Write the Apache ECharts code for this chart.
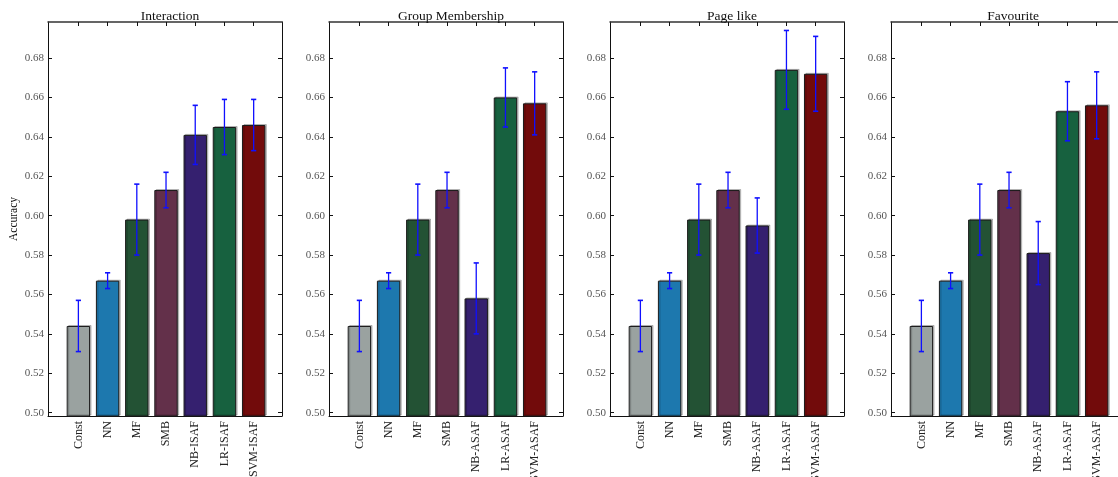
<!DOCTYPE html>
<html>
<head>
<meta charset="utf-8">
<script src="https://cdn.jsdelivr.net/npm/echarts@6/dist/echarts.min.js"></script>
<style>
html,body{margin:0;padding:0;background:#fff;}
#chart{width:1118px;height:477px;}
</style>
</head>
<body>
<div id="chart"></div>
<script>
// ---- data ----
const titles = ['Interaction', 'Group Membership', 'Page like', 'Favourite'];
const catsISAF = ['Const', 'NN', 'MF', 'SMB', 'NB-ISAF', 'LR-ISAF', 'SVM-ISAF'];
const catsASAF = ['Const', 'NN', 'MF', 'SMB', 'NB-ASAF', 'LR-ASAF', 'SVM-ASAF'];

const interactionAcc = [0.544, 0.567, 0.598, 0.613, 0.641, 0.645, 0.646];
const interactionErr = [0.013, 0.004, 0.018, 0.009, 0.015, 0.014, 0.013];

const groupAcc = [0.544, 0.567, 0.598, 0.613, 0.558, 0.660, 0.657];
const groupErr = [0.013, 0.004, 0.018, 0.009, 0.018, 0.015, 0.016];

const pageAcc = [0.544, 0.567, 0.598, 0.613, 0.595, 0.674, 0.672];
const pageErr = [0.013, 0.004, 0.018, 0.009, 0.014, 0.020, 0.019];

const favAcc = [0.544, 0.567, 0.598, 0.613, 0.581, 0.653, 0.656];
const favErr = [0.013, 0.004, 0.018, 0.009, 0.016, 0.015, 0.017];

const yTicks = [0.50, 0.52, 0.54, 0.56, 0.58, 0.60, 0.62, 0.64, 0.66, 0.68];
const barColors = ['#9aa2a0', '#1d78ae', '#235234', '#63304a', '#35206f', '#17613f', '#720b0b'];

const panels = [
  { title: titles[0], cats: catsISAF, acc: interactionAcc, err: interactionErr },
  { title: titles[1], cats: catsASAF, acc: groupAcc, err: groupErr },
  { title: titles[2], cats: catsASAF, acc: pageAcc, err: pageErr },
  { title: titles[3], cats: catsASAF, acc: favAcc, err: favErr }
];

// ---- layout ----
const gridLefts = [48, 329, 610, 891];
const gridW = 234, gridTop = 22, gridH = 394;
const xMin = -1.04, xMax = 6.97;
const yMin = 0.4983, yMax = 0.6983;
const FONT = '"Liberation Serif", "DejaVu Serif", serif';
const idx = [0, 1, 2, 3, 4, 5, 6];

const option = {
  animation: false,
  backgroundColor: '#fff',
  title: [], grid: [], xAxis: [], yAxis: [], series: []
};

panels.forEach((p, k) => {
  option.title.push({
    text: p.title,
    left: gridLefts[k] + gridW / 2,
    top: 4,
    textAlign: 'center',
    textStyle: { fontFamily: FONT, fontSize: 13.5, fontWeight: 'normal', color: '#111' }
  });
  option.grid.push({
    left: gridLefts[k], top: gridTop, width: gridW, height: gridH,
    containLabel: false, outerBoundsMode: 'none'
  });

  // bottom x axis with labels
  option.xAxis.push({
    type: 'value', gridIndex: k, min: xMin, max: xMax, position: 'bottom',
    axisLine: { show: true, onZero: false, lineStyle: { color: '#111', width: 1 } },
    axisTick: { show: true, inside: true, length: 3, customValues: idx, lineStyle: { color: '#111' } },
    axisLabel: {
      show: true, customValues: idx, rotate: 90, margin: 5,
      fontFamily: FONT, fontSize: 12, color: '#222',
      formatter: v => p.cats[Math.round(v)]
    },
    splitLine: { show: false }
  });
  // top x axis (frame + ticks)
  option.xAxis.push({
    type: 'value', gridIndex: k, min: xMin, max: xMax, position: 'top',
    axisLine: { show: true, onZero: false, lineStyle: { color: '#333', width: 1.5 } },
    axisTick: { show: true, inside: true, length: 4, customValues: idx, lineStyle: { color: '#111' } },
    axisLabel: { show: false },
    splitLine: { show: false }
  });
  // left y axis
  option.yAxis.push({
    type: 'value', gridIndex: k, min: yMin, max: yMax, position: 'left',
    name: k === 0 ? 'Accuracy' : '', nameLocation: 'middle', nameGap: 28,
    nameTextStyle: { fontFamily: FONT, fontSize: 11.5, color: '#111' },
    axisLine: { show: true, onZero: false, lineStyle: { color: '#111', width: 1 } },
    axisTick: { show: true, inside: true, length: 4, customValues: yTicks, lineStyle: { color: '#111' } },
    axisLabel: {
      show: true, customValues: yTicks, margin: 4,
      fontFamily: FONT, fontSize: 11, color: '#555',
      formatter: v => v.toFixed(2)
    },
    splitLine: { show: false }
  });
  // right y axis
  option.yAxis.push({
    type: 'value', gridIndex: k, min: yMin, max: yMax, position: 'right',
    axisLine: { show: true, onZero: false, lineStyle: { color: '#111', width: 1 } },
    axisTick: { show: true, inside: true, length: 4, customValues: yTicks, lineStyle: { color: '#111' } },
    axisLabel: { show: false },
    splitLine: { show: false }
  });

  option.series.push({
    type: 'bar',
    xAxisIndex: 2 * k, yAxisIndex: 2 * k,
    barWidth: 23.4,
    clip: true,
    data: p.acc.map((v, i) => ({
      value: [i, v],
      itemStyle: {
        color: barColors[i], borderColor: '#1a1a1a', borderWidth: 1,
        shadowColor: 'rgba(0,0,0,0.22)', shadowBlur: 0, shadowOffsetX: 1.5, shadowOffsetY: -1
      }
    }))
  });

  option.series.push({
    type: 'custom',
    xAxisIndex: 2 * k, yAxisIndex: 2 * k,
    z: 10,
    data: p.acc.map((v, i) => [i, v - p.err[i], v + p.err[i]]),
    renderItem: function (params, api) {
      const x = api.value(0);
      const lo = api.coord([x, api.value(1)]);
      const hi = api.coord([x, api.value(2)]);
      const cw = 2.6;
      const st = { stroke: '#1010ff', lineWidth: 1.3 };
      return {
        type: 'group',
        children: [
          { type: 'line', shape: { x1: hi[0], y1: hi[1], x2: lo[0], y2: lo[1] }, style: st },
          { type: 'line', shape: { x1: hi[0] - cw, y1: hi[1], x2: hi[0] + cw, y2: hi[1] }, style: { stroke: '#1010ff', lineWidth: 1.6 } },
          { type: 'line', shape: { x1: lo[0] - cw, y1: lo[1], x2: lo[0] + cw, y2: lo[1] }, style: { stroke: '#1010ff', lineWidth: 1.6 } }
        ]
      };
    }
  });
});

const chart = echarts.init(document.getElementById('chart'), null, { renderer: 'canvas' });
chart.setOption(option);
</script>
</body>
</html>
